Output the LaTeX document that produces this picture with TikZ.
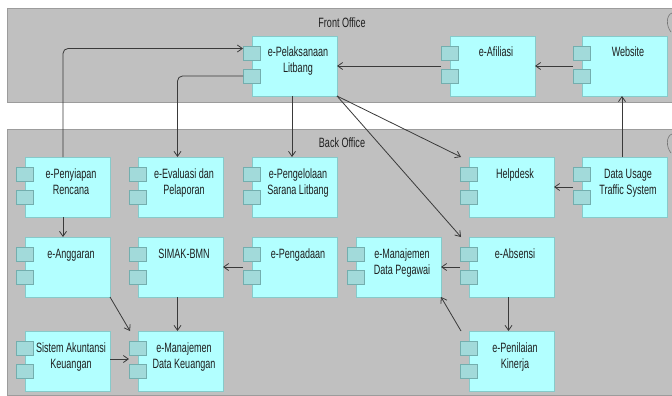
\documentclass[tikz,border=0pt]{standalone}
\usepackage{fontspec}
\setmainfont[FakeStretch=0.67]{Liberation Sans}
\usetikzlibrary{arrows.meta}
\definecolor{panelfill}{HTML}{C0C0C0}
\definecolor{paneldraw}{HTML}{9C9C9C}
\definecolor{compfill}{HTML}{B2FFFF}
\definecolor{compdraw}{HTML}{86CACA}
\definecolor{portfill}{HTML}{A2DADA}
\definecolor{portdraw}{HTML}{73AEAE}
\definecolor{wire}{HTML}{3A3A3A}
\definecolor{ink}{HTML}{1E1E1E}
\tikzset{
  panel/.style={fill=panelfill, draw=paneldraw, line width=0.8pt},
  paneltitle/.style={font=\fontsize{13.5}{16}\selectfont, inner sep=0pt, text=ink},
  comp/.style={draw=compdraw, fill=compfill, line width=0.6pt, anchor=north west,
    minimum width=85pt, minimum height=60pt, inner sep=0pt, outer sep=0pt},
  comptext/.style={anchor=base, inner sep=0pt, text=ink,
    font=\fontsize{13.5}{16}\selectfont},
  port/.style={draw=portdraw, fill=portfill, line width=0.6pt, anchor=north west,
    minimum width=17pt, minimum height=14pt, inner sep=0pt, outer sep=0pt},
  conn/.style={draw=wire, line width=0.8pt, -{Straight Barb[length=5pt,width=7pt]}},
}
% component box with its two interface ports on the left edge
\newcommand{\component}[4]{%
  \node[comp] (#1) at (#2,#3) {};
  \node[comptext] at ([xshift=3.5pt,yshift=-21pt]#1.north) {\parbox[t]{95pt}{\centering #4}};
  \node[port] (#1-p1) at ([xshift=-9pt,yshift=-10pt]#1.north west) {};
  \node[port] (#1-p2) at ([xshift=-9pt,yshift=-33pt]#1.north west) {};
}
\begin{document}
\begin{tikzpicture}[x=1pt,y=-1pt]
\useasboundingbox (0,0) rectangle (672,396);
\fill[white] (0,0) rectangle (672,396);

% the two office groups
\draw[panel] (7,8) rectangle (676,102);
\draw[panel] (7,129) rectangle (676,395);
\node[paneltitle] (fo) at (342,23) {Front Office};
\node[paneltitle] (bo) at (342,143) {Back Office};
\draw[wire!70, line width=0.6pt] (672,13) .. controls (666,15) and (666,26) .. (671,32);
\draw[wire!70, line width=0.6pt] (672,134) .. controls (666,136) and (666,147) .. (671,153);

% front office
\component{pel}{252}{36}{e-Pelaksanaan\\Litbang}
\component{afi}{450}{36}{e-Afiliasi}
\component{web}{582}{36}{Website}

% back office, first row
\component{pen}{25}{157}{e-Penyiapan\\Rencana}
\component{eva}{138}{157}{e-Evaluasi dan\\Pelaporan}
\component{peng}{252}{157}{e-Pengelolaan\\Sarana Litbang}
\component{help}{469}{157}{Helpdesk}
\component{dut}{582}{157}{Data Usage\\Traffic System}

% second row
\component{ang}{25}{237}{e-Anggaran}
\component{sim}{138}{237}{SIMAK-BMN}
\component{pgd}{252}{237}{e-Pengadaan}
\component{peg}{356}{237}{e-Manajemen\\Data Pegawai}
\component{abs}{469}{237}{e-Absensi}

% third row
\component{sak}{25}{331}{Sistem Akuntansi\\Keuangan}
\component{dk}{138}{331}{e-Manajemen\\Data Keuangan}
\component{pk}{469}{331}{e-Penilaian\\Kinerja}

% connectors
\draw[conn, rounded corners=5pt] ([xshift=-4.5pt]pen.north) |- ([yshift=4.5pt]pel-p1.west);
\draw[conn, rounded corners=5pt] (pel-p2.west) -| ([xshift=-3pt]eva.north);
\draw[conn] ([xshift=-2.5pt]pel.south) -- ([xshift=-2.5pt]peng.north);
\draw[conn] (pel.south east) -- ([xshift=-8pt]help.north west);
\draw[conn] (pel.south east) -- ([xshift=-8pt]abs.north west);
\draw[conn] (afi-p1.west |- afi.west) -- (pel.east);
\draw[conn] (web-p1.west |- web.west) -- (afi.east);
\draw[conn] ([xshift=-2.5pt]dut.north) -- ([xshift=-2.5pt]web.south);
\draw[conn] (dut-p1.west |- dut.west) -- (help.east);
\draw[conn] (abs-p1.west |- abs.west) -- (peg.east);
\draw[conn] ([xshift=-3pt]abs.south) -- ([xshift=-3pt]pk.north);
\draw[conn] ([xshift=-8pt]pk.north west) -- (peg.south east);
\draw[conn] (pgd-p1.west |- pgd.west) -- (sim.east);
\draw[conn] ([xshift=-3pt]sim.south) -- ([xshift=-3pt]dk.north);
\draw[conn] (ang.south east) -- ([xshift=-8pt]dk.north west);
\draw[conn] ([yshift=2pt]sak.east) -- ([yshift=2pt]dk-p1.west |- sak.east);
\draw[conn] ([xshift=-4.5pt]pen.south) -- ([xshift=-4.5pt]ang.north);
\end{tikzpicture}
\end{document}
